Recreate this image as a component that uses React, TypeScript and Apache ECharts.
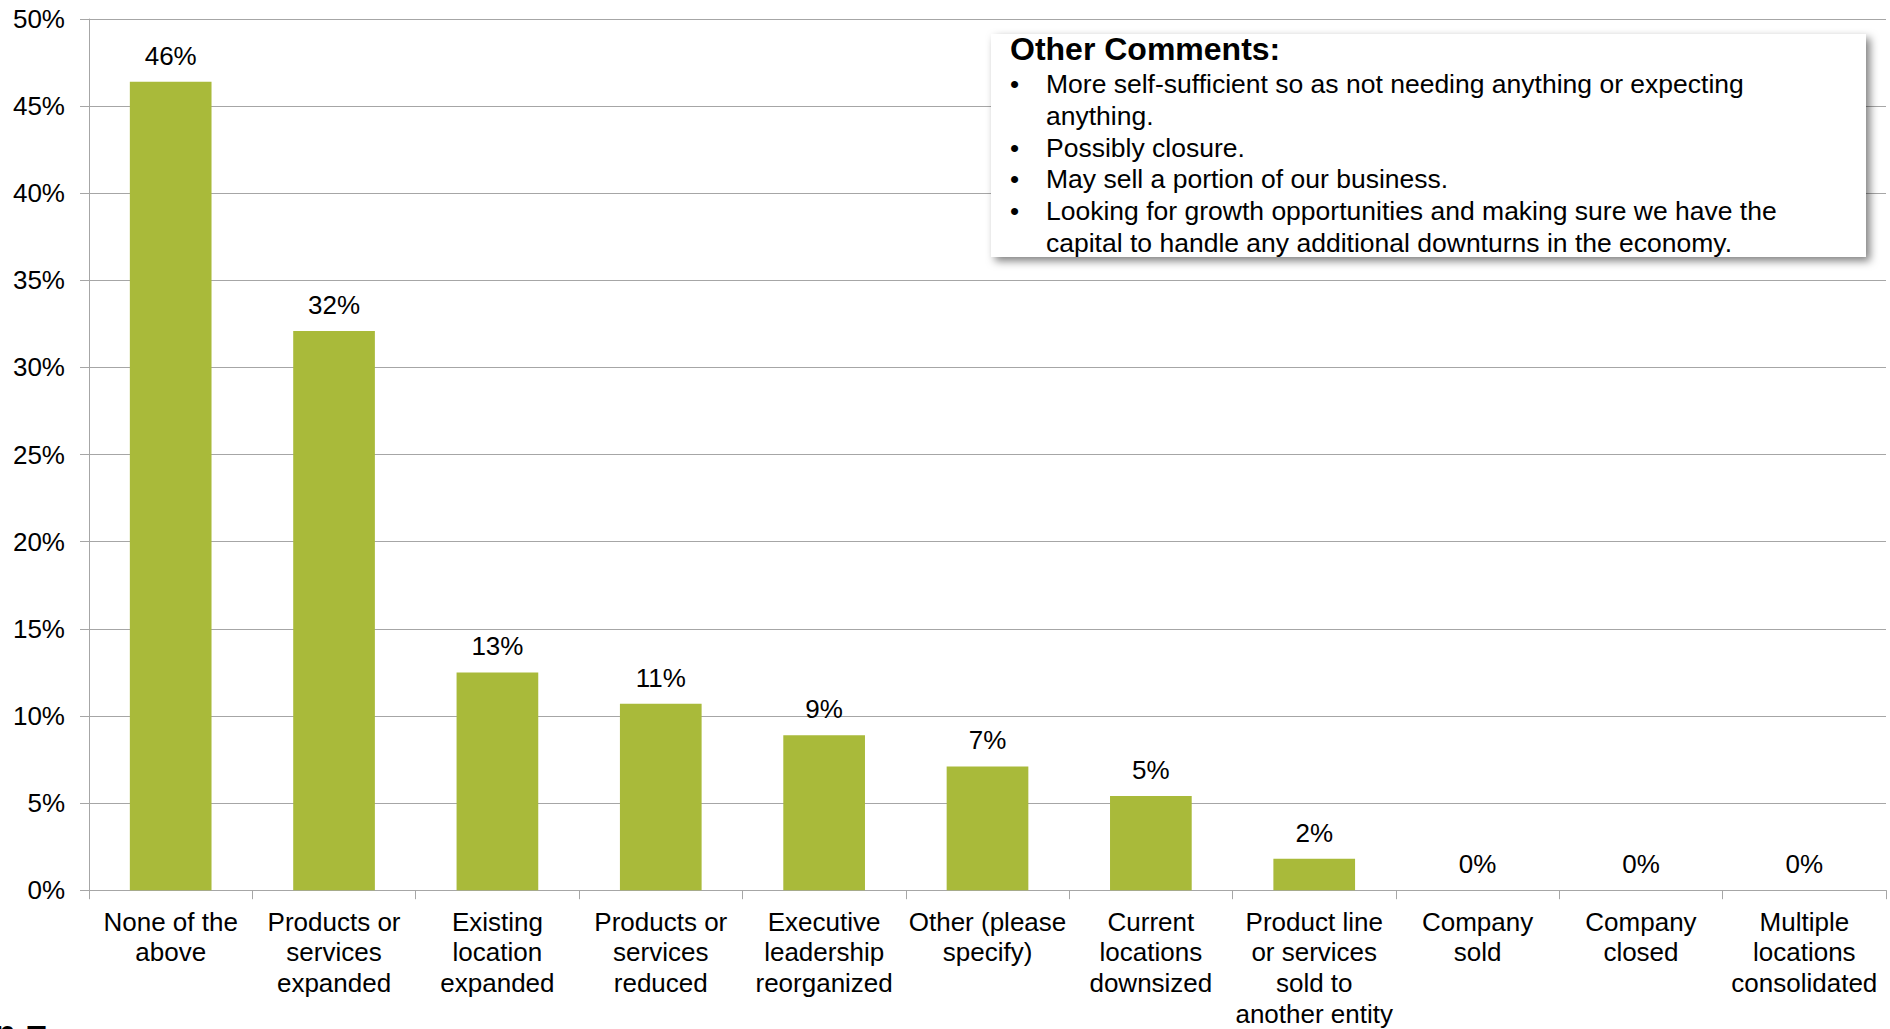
import React, { useEffect, useRef } from "react";
import * as echarts from "echarts";

const categories = [
  "None of the\nabove",
  "Products or\nservices\nexpanded",
  "Existing\nlocation\nexpanded",
  "Products or\nservices\nreduced",
  "Executive\nleadership\nreorganized",
  "Other (please\nspecify)",
  "Current\nlocations\ndownsized",
  "Product line\nor services\nsold to\nanother entity",
  "Company\nsold",
  "Company\nclosed",
  "Multiple\nlocations\nconsolidated",
];

const values = [46.4, 32.1, 12.5, 10.7, 8.9, 7.1, 5.4, 1.8, 0, 0, 0];

const yTicks = { min: 0, max: 50, interval: 5 };

const commentTitle = "Other Comments:";
const commentLines = [
  { bullet: true, text: "More self-sufficient so as not needing anything or expecting" },
  { bullet: false, text: "anything." },
  { bullet: true, text: "Possibly closure." },
  { bullet: true, text: "May sell a portion of our business." },
  { bullet: true, text: "Looking for growth opportunities and making sure we have the" },
  { bullet: false, text: "capital to handle any additional downturns in the economy." },
];

const FONT = "'Liberation Sans', Arial, Helvetica, sans-serif";
const GRID = "#A6A6A6";
const BAR = "#A9BA3A";

export default function App() {
  const ref = useRef<HTMLDivElement>(null);
  useEffect(() => {
    if (!ref.current) return;
    const chart = echarts.init(ref.current, undefined, { renderer: "svg" });
    const boxX = 991, boxY = 34, boxW = 875, boxH = 223;
    const lineGap = 31.8;
    const firstLineY = 84;
    const textEls: any[] = [];
    commentLines.forEach((l, i) => {
      const y = firstLineY + i * lineGap;
      if (l.bullet) {
        textEls.push({
          type: "text",
          x: 1010,
          y,
          style: { text: "•", font: `26px ${FONT}`, fill: "#000", textVerticalAlign: "middle" },
          z: 20,
        });
      }
      textEls.push({
        type: "text",
        x: 1046,
        y,
        style: { text: l.text, font: `26.5px ${FONT}`, fill: "#000", textVerticalAlign: "middle" },
        z: 20,
      });
    });
    chart.setOption({
      animation: false,
      backgroundColor: "#fff",
      grid: { left: 89, right: 4, top: 19, bottom: 138, containLabel: false },
      xAxis: {
        type: "category",
        data: categories,
        axisLine: { show: true, lineStyle: { color: GRID, width: 1 } },
        axisTick: { show: true, length: 9, lineStyle: { color: GRID } },
        axisLabel: {
          interval: 0,
          margin: 16,
          color: "#000",
          fontFamily: FONT,
          fontSize: 26,
          lineHeight: 30.7,
          align: "center",
        },
      },
      yAxis: {
        type: "value",
        min: yTicks.min,
        max: yTicks.max,
        interval: yTicks.interval,
        axisLine: { show: true, lineStyle: { color: GRID, width: 1 } },
        axisTick: { show: true, length: 9, lineStyle: { color: GRID } },
        splitLine: { show: true, lineStyle: { color: GRID, width: 1 } },
        axisLabel: {
          formatter: "{value}%",
          margin: 24,
          color: "#000",
          fontFamily: FONT,
          fontSize: 26,
        },
      },
      series: [
        {
          type: "bar",
          data: values,
          barCategoryGap: "50%",
          itemStyle: { color: BAR },
          label: {
            show: true,
            position: "top",
            distance: 13,
            color: "#000",
            fontFamily: FONT,
            fontSize: 26,
            formatter: (p: any) => `${Math.round(p.value)}%`,
          },
        },
      ],
      graphic: [
        {
          type: "rect",
          shape: { x: boxX, y: boxY, width: boxW, height: boxH },
          style: {
            fill: "#fff",
            shadowColor: "rgba(0,0,0,0.5)",
            shadowBlur: 8,
            shadowOffsetX: 4,
            shadowOffsetY: 4,
          },
          z: 10,
        },
        {
          type: "text",
          x: 1010,
          y: 49,
          style: { text: commentTitle, font: `bold 32px ${FONT}`, fill: "#000", textVerticalAlign: "middle" },
          z: 20,
        },
        ...textEls,
        {
          type: "text",
          x: -6,
          y: 1015,
          style: { text: "n =", font: `bold 36px ${FONT}`, fill: "#000", textVerticalAlign: "top" },
          z: 20,
        },
      ],
    });
    return () => chart.dispose();
  }, []);
  return (
    <div
      ref={ref}
      style={{ position: "fixed", left: 0, top: 0, width: 1890, height: 1029 }}
    />
  );
}
